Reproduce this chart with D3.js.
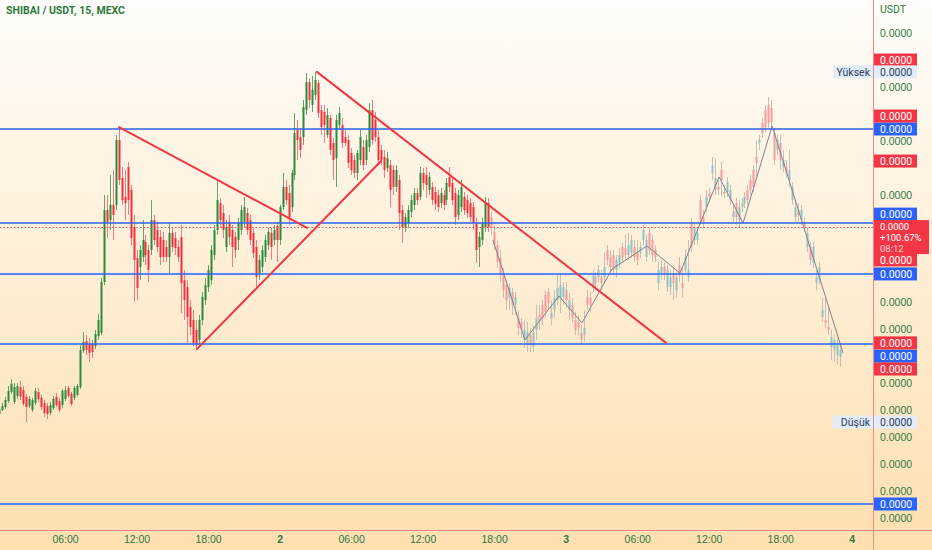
<!DOCTYPE html>
<html>
<head>
<meta charset="utf-8">
<script src="https://cdn.jsdelivr.net/npm/d3@7"></script>
<style>
  body { margin: 0; background: #fff; }
  svg { display: block; font-family: Roboto, "DejaVu Sans", sans-serif; }
</style>
</head>
<body>
<svg id="chart" width="932" height="550"></svg>
<script>
// prices are in 1e-9 USDT, so every label prints as 0.0000 like the original
const liveOpen = [3.86,4.01,4.12,4.34,4.68,4.31,4.53,4.86,4.75,4.50,4.16,4.01,4.27,4.68,4.46,4.27,4.16,3.90,4.08,4.50,
  4.34,4.19,4.42,4.83,4.61,4.46,4.57,4.86,6.20,6.57,6.46,6.46,6.38,6.75,6.87,8.76,11.43,11.06,11.62,11.62,
  14.03,12.62,11.92,13.03,12.18,10.80,9.65,9.32,9.69,10.25,9.95,9.95,11.06,10.69,10.43,10.32,10.06,9.69,10.58,10.39,
  10.06,10.43,8.83,8.57,7.83,7.35,6.98,6.61,7.35,8.09,8.57,8.83,9.76,10.69,11.69,11.32,10.06,10.99,10.69,10.43,
  10.32,10.69,10.99,11.32,11.06,10.58,10.06,9.09,9.32,9.69,10.13,10.58,10.32,10.84,10.32,11.54,12.29,12.06,11.54,12.73,
  14.40,14.14,14.14,15.14,16.18,15.33,15.70,16.15,15.14,15.07,14.22,14.85,13.92,13.36,14.59,14.59,14.14,14.03,13.55,13.29,
  12.81,13.29,13.77,13.29,13.77,15.14,14.77,14.14,13.66,13.40,12.99,13.10,12.92,12.29,12.55,11.43,10.80,10.95,11.36,11.62,
  12.06,11.92,12.81,12.73,12.18,12.29,12.10,11.99,11.69,11.99,11.80,12.66,12.44,12.06,11.25,11.54,11.92,11.80,11.69,11.54,
  10.95,10.06,10.32,10.80,11.69];
const liveHigh = [4.19,4.27,4.50,4.90,5.16,5.01,5.01,5.09,4.90,4.61,4.53,4.46,4.83,4.83,4.57,4.38,4.27,4.31,4.53,4.64,
  4.46,4.79,4.90,4.90,4.68,4.90,4.98,6.42,6.90,6.79,6.68,6.61,6.98,7.57,8.91,11.99,11.99,12.73,12.92,14.22,
  14.51,13.03,12.92,13.22,12.36,11.25,9.95,10.13,11.06,10.51,10.13,11.80,11.25,10.99,10.69,10.62,10.32,10.95,10.77,10.62,
  10.32,10.88,9.21,8.83,8.09,7.72,7.35,7.54,8.39,8.91,9.39,10.13,10.88,12.55,11.88,11.62,11.06,11.25,10.88,10.62,
  11.14,11.62,11.92,11.51,11.25,10.77,10.32,9.76,10.13,10.51,10.77,10.77,10.88,10.99,11.62,12.81,12.55,12.36,12.92,15.03,
  14.77,14.48,15.52,16.52,16.33,16.41,16.56,16.26,15.33,15.33,15.22,14.96,14.11,14.96,15.26,14.85,14.40,14.22,13.73,13.47,
  13.66,14.40,14.03,14.22,15.40,15.52,15.07,14.40,13.85,13.66,13.59,13.29,13.10,13.10,12.73,11.62,11.32,11.62,11.99,12.25,
  12.25,13.03,12.99,13.03,12.84,12.47,12.29,12.18,12.25,12.18,12.62,13.03,12.62,12.25,12.18,12.55,12.10,11.99,11.88,11.73,
  11.14,10.62,11.14,11.92,11.88];
const liveLow = [3.79,3.97,4.05,4.27,4.61,4.23,4.42,4.38,4.16,3.56,4.08,3.93,4.19,4.31,4.01,3.75,3.67,3.82,4.01,4.12,
  3.93,4.08,4.34,4.46,4.16,4.38,4.50,4.79,6.13,6.05,5.79,5.94,6.27,6.61,6.79,8.65,10.39,10.69,10.32,11.43,
  12.36,11.62,11.06,11.25,10.13,8.02,8.09,8.83,9.50,9.39,8.76,9.76,10.13,9.87,9.39,9.50,9.50,9.09,9.87,9.76,
  9.50,7.61,7.35,6.50,6.79,6.38,6.27,6.42,7.16,7.91,8.39,8.65,9.58,10.51,10.77,10.39,9.87,10.13,9.32,9.65,
  9.95,10.51,10.77,10.51,10.13,9.65,8.57,8.83,9.13,9.50,9.95,9.58,10.13,9.50,10.13,11.43,11.62,10.88,11.36,12.55,
  13.29,13.36,13.85,14.96,15.22,15.07,15.52,14.85,14.22,13.92,14.11,13.47,12.55,12.29,14.40,13.73,13.81,12.99,12.73,12.62,
  12.55,13.10,12.92,13.10,13.59,13.85,13.96,13.10,13.10,12.62,12.84,11.54,11.99,12.10,10.69,10.21,10.62,10.77,11.17,11.43,
  11.62,11.80,12.18,11.88,11.99,11.62,11.43,11.36,11.51,11.43,11.62,12.10,11.62,10.88,11.06,11.36,11.25,11.14,10.99,10.69,
  9.47,9.32,10.13,10.62,10.62];
const liveClose = [4.05,4.16,4.38,4.72,4.98,4.86,4.90,4.50,4.23,4.12,4.42,4.38,4.72,4.42,4.12,3.90,3.86,4.19,4.42,4.19,
  4.01,4.72,4.75,4.53,4.23,4.83,4.90,6.24,6.53,6.24,6.13,6.16,6.83,7.35,8.76,11.43,10.99,11.62,11.25,14.03,
  12.55,11.80,11.69,11.80,10.39,9.58,8.54,9.95,10.32,9.76,9.21,11.06,10.32,10.06,9.69,9.69,9.69,10.58,10.06,10.02,
  9.69,8.72,8.09,7.46,7.09,6.50,6.42,7.35,8.20,8.65,9.21,9.95,10.69,11.80,11.06,10.69,10.80,10.43,10.06,9.95,
  10.95,11.43,11.54,10.69,10.32,9.84,8.95,9.58,9.95,10.32,10.62,10.06,10.69,10.32,11.54,12.29,11.80,11.17,12.81,14.29,
  14.03,13.66,15.26,16.18,15.52,15.89,16.26,15.03,14.51,14.59,14.96,13.66,13.29,14.77,15.03,13.92,13.92,13.18,12.92,12.81,
  13.55,14.14,13.10,14.03,15.14,14.03,14.14,13.29,13.29,12.92,13.36,12.18,12.29,12.92,11.32,10.80,11.17,11.43,11.80,12.06,
  11.80,12.81,12.44,12.36,12.66,11.80,11.66,11.54,12.06,11.62,12.44,12.29,11.80,11.17,11.99,12.29,11.43,11.32,11.17,10.95,
  9.95,10.43,10.95,11.69,10.80];

// faded bars of the drawn projection
const projOpen = [11.17,10.62,10.13,9.65,9.09,8.65,8.17,8.39,7.91,7.42,7.28,6.61,6.42,6.79,6.35,6.98,7.54,7.91,8.28,8.39,
  7.42,7.72,8.09,8.17,8.20,8.46,7.72,7.91,7.35,7.28,6.87,6.79,8.20,8.17,8.57,8.95,8.95,8.95,8.95,9.95,
  9.69,9.76,9.21,9.47,10.06,10.02,9.76,9.84,10.06,9.84,9.84,10.32,9.69,10.58,10.32,9.95,8.72,9.09,9.32,8.57,
  8.57,9.09,8.46,9.39,8.72,9.21,8.95,10.95,10.32,10.32,11.80,11.17,11.54,12.06,12.81,12.18,12.29,12.92,12.10,12.10,
  11.80,11.17,11.69,11.06,11.54,11.69,12.18,12.55,12.92,13.40,13.92,14.66,15.14,15.33,15.22,14.29,13.66,13.92,13.03,13.03,
  12.55,11.80,11.17,11.43,11.06,10.99,10.06,10.06,9.47,8.72,8.83,7.46,7.35,7.09,6.35,6.24,6.05,5.98];
const projHigh = [11.36,10.88,10.32,9.95,9.28,8.83,8.72,8.54,8.39,7.72,7.42,7.35,7.28,7.05,7.16,7.91,7.91,8.09,8.46,8.54,
  8.09,8.46,9.02,9.09,8.76,8.76,8.35,8.17,7.65,7.54,7.16,7.72,8.46,8.39,9.21,9.13,9.39,9.21,9.84,10.13,
  9.95,9.95,9.76,10.02,10.21,10.51,10.58,10.51,10.32,10.32,10.25,10.88,10.51,10.77,10.51,10.13,9.50,9.58,9.50,9.39,
  9.21,9.28,9.13,9.69,9.32,9.95,10.32,11.14,10.99,10.77,11.99,11.43,12.18,12.25,13.40,13.36,12.55,13.22,12.36,12.66,
  12.36,11.62,11.88,11.80,11.88,12.10,12.36,12.73,13.10,14.03,14.22,14.85,15.33,15.63,15.52,14.48,14.22,14.22,13.66,13.29,
  13.66,12.47,11.80,11.69,11.62,11.17,10.77,10.25,10.25,9.21,9.50,8.17,8.20,7.83,6.98,6.79,6.68,6.50];
const projLow = [10.51,9.95,9.28,8.76,8.17,7.72,7.72,7.54,7.54,6.79,6.68,6.31,6.16,6.16,6.16,6.61,6.98,7.16,7.42,7.72,
  7.16,7.42,7.91,7.61,7.91,7.80,7.35,7.28,6.79,6.79,6.42,6.53,7.72,7.65,8.39,8.46,8.76,8.46,8.72,9.39,
  9.13,9.02,8.91,9.28,9.50,9.58,9.58,9.65,9.50,9.39,9.65,10.13,9.50,9.76,9.50,9.50,8.46,8.83,8.83,8.39,
  8.28,8.09,8.17,8.76,8.20,9.02,8.76,9.87,10.13,10.13,10.88,10.77,11.36,11.73,12.55,11.99,11.99,11.95,11.88,11.92,
  11.62,10.99,10.88,10.80,11.36,11.51,11.62,11.99,12.10,12.55,13.66,14.11,14.33,14.48,14.48,13.10,13.47,12.92,12.84,12.62,
  12.29,11.62,10.99,10.99,10.88,10.62,9.87,9.39,9.28,8.46,8.65,7.28,7.05,6.79,5.86,5.79,5.68,5.61];
const projClose = [10.77,10.13,9.50,9.02,8.46,8.09,8.54,7.91,8.20,7.05,6.98,6.98,6.90,6.42,6.87,7.42,7.28,7.42,7.65,7.98,
  7.61,8.17,8.54,8.65,8.57,8.09,8.09,7.42,6.98,7.05,6.61,7.05,7.91,7.91,9.02,8.69,9.21,8.72,9.32,9.58,
  9.32,9.21,9.58,9.76,9.69,9.76,10.13,10.32,9.69,9.58,10.06,10.69,10.32,9.95,9.76,9.69,9.21,9.32,9.09,9.21,
  8.95,8.72,8.95,9.02,8.54,9.69,9.21,10.06,10.80,10.58,11.06,10.95,11.92,11.92,13.10,12.62,12.18,12.55,12.03,12.47,
  12.18,11.36,11.17,11.54,11.69,11.92,11.80,12.18,12.29,13.18,14.03,14.29,14.51,14.66,14.70,13.29,14.03,13.29,13.29,12.81,
  12.92,12.29,11.54,11.25,11.43,10.80,10.58,9.58,10.06,8.95,9.32,7.72,7.24,6.98,6.72,6.61,6.42,6.24];

// hand drawn zigzag over the projection
const pathTimes = ["2023-06-02 17:54","2023-06-02 20:35","2023-06-02 23:26","2023-06-03 01:22","2023-06-03 03:53",
  "2023-06-03 06:49","2023-06-03 09:35","2023-06-03 12:52","2023-06-03 14:53","2023-06-03 17:19","2023-06-03 23:16"];
const pathPrices = [10.32, 6.61, 8.24, 7.24, 9.24, 10.10, 9.09, 12.66, 10.95, 14.55, 6.13];

// red trend lines: start time, start price, end time, end price
const trendLines = [
  ["2023-06-01 10:32", 14.51, "2023-06-02 02:18", 10.77],
  ["2023-06-01 17:04", 6.27, "2023-06-02 08:31", 13.25],
  ["2023-06-02 03:08", 16.56, "2023-06-03 08:25", 6.50]
];

const levelPrices = [14.44, 10.95, 9.06, 6.46, 0.52];   // blue horizontal lines
const blueTagPrices = [14.44, 11.28, 9.06, 6.01, 0.52];  // where their axis tags sit
const redTagPrices = [17.00, 14.92, 13.25, 9.58, 6.50, 5.53];
const lastPrice = 10.80;
const lastChange = "+100.67%";
const lastCountdown = "08:12";
const highPrice = 16.56;
const lowPrice = 3.56;
const priceTicks = d3.range(0, 19);

const W = 932, H = 550, plotW = 873, plotH = 530;
const GREEN_TEXT = "#2a7a3e", RED = "#f23645", BLUE = "#2962ff", AXIS_LINE = "#f7868a";

const parseTime = d3.timeParse("%Y-%m-%d %H:%M");
const firstBar = parseTime("2023-06-01 00:30");

function toBars(open, high, low, close, offset) {
  return open.map((o, i) => ({
    t: d3.timeMinute.offset(firstBar, (offset + i) * 15),
    o: o, h: high[i], l: low[i], c: close[i]
  }));
}
const live = toBars(liveOpen, liveHigh, liveLow, liveClose, 0);
const proj = toBars(projOpen, projHigh, projLow, projClose, liveOpen.length);

const x = d3.scaleTime()
  .domain([new Date(2023, 5, 1, 0, 32, 43), new Date(2023, 5, 4, 1, 46, 48)])
  .range([0, plotW]);
const y = d3.scaleLinear().domain([-0.445, 19.228]).range([plotH, 0]);

const svg = d3.select("#chart");
const defs = svg.append("defs");
const grad = defs.append("linearGradient").attr("id", "bg")
  .attr("x1", 0).attr("y1", 0).attr("x2", 0).attr("y2", 1);
grad.append("stop").attr("offset", "0%").attr("stop-color", "#fffdfa");
grad.append("stop").attr("offset", "100%").attr("stop-color", "#fedfb0");
defs.append("clipPath").attr("id", "plotClip")
  .append("rect").attr("width", plotW).attr("height", plotH);

svg.append("rect").attr("width", W).attr("height", H).attr("fill", "url(#bg)");

const plot = svg.append("g").attr("clip-path", "url(#plotClip)");

function drawCandles(bars, cls, upBody, downBody, upWick, downWick) {
  const g = plot.append("g").attr("class", cls);
  const bar = g.selectAll("g").data(bars).enter().append("g");
  bar.append("line")
    .attr("x1", d => Math.round(x(d.t)) + 0.5)
    .attr("x2", d => Math.round(x(d.t)) + 0.5)
    .attr("y1", d => y(d.h))
    .attr("y2", d => y(d.l))
    .attr("stroke", d => d.c >= d.o ? upWick : downWick)
    .attr("stroke-width", 1);
  bar.append("rect")
    .attr("x", d => Math.round(x(d.t)) - 0.5)
    .attr("width", 2)
    .attr("y", d => y(Math.max(d.o, d.c)))
    .attr("height", d => Math.max(1, Math.abs(y(d.o) - y(d.c))))
    .attr("fill", d => d.c >= d.o ? upBody : downBody);
}

drawCandles(live, "live", "#2b8a3b", "#f0313d", "#5ea86a", "#f47a83");
drawCandles(proj, "proj", "#8fc4c2", "#f39b9e", "#c4c1b4", "#cfbcb1");

// projection zigzag
const pathPts = pathTimes.map((t, i) => [parseTime(t), pathPrices[i]]);
plot.append("path")
  .datum(pathPts)
  .attr("fill", "none")
  .attr("stroke", "#80838d")
  .attr("stroke-width", 1)
  .attr("d", d3.line().x(d => x(d[0])).y(d => y(d[1])));

// current price dotted line
plot.append("line")
  .attr("x1", 0).attr("x2", plotW)
  .attr("y1", Math.round(y(lastPrice)) + 0.5).attr("y2", Math.round(y(lastPrice)) + 0.5)
  .attr("stroke", "#f0505a").attr("stroke-width", 1).attr("stroke-dasharray", "1.5,2");

// blue levels
plot.selectAll(".level").data(levelPrices).enter().append("line")
  .attr("class", "level")
  .attr("x1", 0).attr("x2", plotW)
  .attr("y1", d => y(d)).attr("y2", d => y(d))
  .attr("stroke", BLUE).attr("stroke-width", 1.6);

// trend lines
plot.selectAll(".trend").data(trendLines).enter().append("line")
  .attr("class", "trend")
  .attr("x1", d => x(parseTime(d[0]))).attr("y1", d => y(d[1]))
  .attr("x2", d => x(parseTime(d[2]))).attr("y2", d => y(d[3]))
  .attr("stroke", RED).attr("stroke-width", 2).attr("stroke-linecap", "round");

// title
svg.append("text")
  .attr("x", 6).attr("y", 14)
  .attr("fill", GREEN_TEXT)
  .style("font-size", "10.5px").style("font-weight", "bold")
  .text("SHIBAI / USDT, 15, MEXC");

// time axis
const fmtHour = d3.timeFormat("%H:%M"), fmtDay = d3.timeFormat("%-d");
const xAxis = svg.append("g")
  .attr("transform", "translate(0," + plotH + ")")
  .call(d3.axisBottom(x).ticks(d3.timeHour.every(6)).tickSize(0).tickPadding(6)
    .tickFormat(d => d.getHours() === 0 ? fmtDay(d) : fmtHour(d)));
xAxis.select(".domain").remove();
xAxis.selectAll("text")
  .attr("fill", GREEN_TEXT)
  .style("font-size", "10.5px")
  .style("font-weight", d => d.getHours() === 0 ? "bold" : "normal");

// price axis; tick labels that sit under a tag are hidden, as they are covered there
const fmtPrice = v => d3.format(".4f")(v * 1e-9);
const tagYs = blueTagPrices.concat(redTagPrices, [highPrice, lowPrice]).map(y);
const lastTop = y(lastPrice) - 7, lastBottom = y(lastPrice) + 26;
const covered = v => {
  const ty = y(v);
  if (ty > lastTop - 5 && ty < lastBottom + 5) return true;
  return tagYs.some(t => Math.abs(t - ty) < 9);
};
const yAxis = svg.append("g")
  .attr("transform", "translate(" + plotW + ",0)")
  .call(d3.axisRight(y).tickValues(priceTicks.filter(v => !covered(v)))
    .tickSize(0).tickPadding(7).tickFormat(fmtPrice));
yAxis.select(".domain").remove();
yAxis.selectAll("text").attr("fill", GREEN_TEXT).style("font-size", "10.5px");

svg.append("text")
  .attr("x", 880).attr("y", 13)
  .attr("fill", GREEN_TEXT).style("font-size", "10.5px")
  .text("USDT");

// axis border lines
svg.append("line").attr("x1", 0).attr("x2", W).attr("y1", plotH + 0.5).attr("y2", plotH + 0.5)
  .attr("stroke", AXIS_LINE).attr("stroke-width", 1);
svg.append("line").attr("x1", plotW + 0.5).attr("x2", plotW + 0.5).attr("y1", 0).attr("y2", H)
  .attr("stroke", AXIS_LINE).attr("stroke-width", 1);

// axis tags
function tag(price, fill, color, txt) {
  const g = svg.append("g").attr("transform", "translate(" + (plotW + 1) + "," + y(price) + ")");
  g.append("rect").attr("x", 0).attr("y", -6.5).attr("width", 43).attr("height", 13).attr("fill", fill);
  g.append("text").attr("x", 6).attr("dy", "0.35em").attr("fill", color)
    .style("font-size", "10.5px").text(txt);
  return g;
}
blueTagPrices.forEach(p => tag(p, BLUE, "#fff", fmtPrice(p)));
redTagPrices.forEach(p => tag(p, RED, "#fff", fmtPrice(p)));

function extremeTag(price, label) {
  const g = tag(price, "#e2edf9", "#2c3b5e", fmtPrice(price));
  g.append("rect").attr("x", -41).attr("y", -6.5).attr("width", 40).attr("height", 13).attr("fill", "#e2edf9");
  g.append("text").attr("x", -4).attr("dy", "0.35em").attr("text-anchor", "end")
    .attr("fill", "#2c3b5e").style("font-size", "10.5px").text(label);
}
extremeTag(highPrice, "Yüksek");
extremeTag(lowPrice, "Düşük");

// last price box: price, change and bar countdown on three lines
const last = svg.append("g").attr("transform", "translate(" + (plotW + 1) + "," + y(lastPrice) + ")");
last.append("rect").attr("x", 0).attr("y", -7).attr("width", 55).attr("height", 34).attr("fill", RED);
[[fmtPrice(lastPrice), "#fff"], [lastChange, "#fff"], [lastCountdown, "#fbd0d3"]].forEach((row, i) => {
  last.append("text").attr("x", 6).attr("y", i * 11).attr("dy", "0.33em")
    .attr("fill", row[1]).style("font-size", "9.5px").text(row[0]);
});
</script>
</body>
</html>
